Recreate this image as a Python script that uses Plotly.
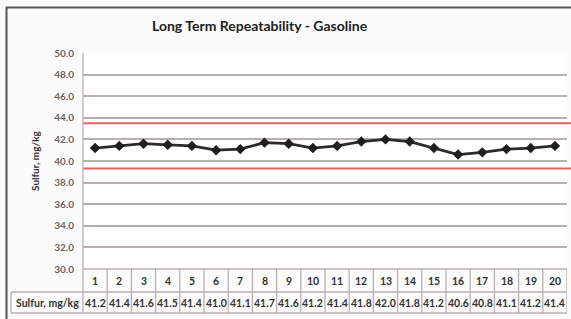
import plotly.graph_objects as go

runs = list(range(1, 21))
sulfur = [41.2, 41.4, 41.6, 41.5, 41.4, 41.0, 41.1, 41.7, 41.6, 41.2,
          41.4, 41.8, 42.0, 41.8, 41.2, 40.6, 40.8, 41.1, 41.2, 41.4]
limits = [43.5, 39.3]
y_ticks = [30, 32, 34, 36, 38, 40, 42, 44, 46, 48, 50]
row_label = "Sulfur, mg/kg"
title = "Long Term Repeatability - Gasoline"

FONT = "Lato"
GRID = "#b8b0b0"
W, H = 571, 319
L, R, T, B = 83, 4, 53, 50
pw, ph = W - L - R, H - T - B

def py(px):  # pixels below plot bottom -> paper y
    return -px / ph

def pxx(px):  # absolute x pixel -> paper x
    return (px - L) / pw

fig = go.Figure()
fig.add_trace(go.Scatter(
    x=runs, y=sulfur, mode="lines+markers",
    line=dict(color="#2b2b2b", width=2.8),
    marker=dict(symbol="diamond", size=8, color="#1e1e1e"),
    showlegend=False, hoverinfo="x+y"))

shapes = []
for v in limits:
    shapes.append(dict(type="line", xref="paper", yref="y", x0=0, x1=pxx(W + 2), y0=v, y1=v,
                       line=dict(color="#e6625f", width=2), layer="above"))

# table geometry
row1 = py(23)
row2 = py(44)
tbl = dict(color=GRID, width=1.3)
shapes.append(dict(type="line", xref="paper", yref="paper", x0=0, x1=1, y0=0, y1=0, line=tbl))
shapes.append(dict(type="line", xref="paper", yref="paper", x0=pxx(11), x1=1, y0=row1, y1=row1, line=tbl))
shapes.append(dict(type="line", xref="paper", yref="paper", x0=pxx(11), x1=1, y0=row2, y1=row2, line=tbl))
shapes.append(dict(type="line", xref="paper", yref="paper", x0=pxx(11), x1=pxx(11), y0=row1, y1=row2, line=tbl))
shapes.append(dict(type="line", xref="paper", yref="paper", x0=0, x1=0, y0=1, y1=row2, line=tbl))
for r in runs:
    shapes.append(dict(type="line", xref="x", yref="paper", x0=r + 0.5, x1=r + 0.5, y0=0, y1=row2, line=tbl))

# outer frame (top & left)
shapes.append(dict(type="line", xref="paper", yref="paper", x0=pxx(6), x1=pxx(W + 5), y0=1 + (T - 7.5) / ph, y1=1 + (T - 7.5) / ph,
                   line=dict(color="#555555", width=2)))
shapes.append(dict(type="line", xref="paper", yref="paper", x0=pxx(6.5), x1=pxx(6.5), y0=1 + (T - 7) / ph, y1=py(H - T - ph + 5),
                   line=dict(color="#555555", width=2)))

cell_font = dict(family=FONT, size=10.5, color="#333333", weight="bold")
annotations = []
for r, v in zip(runs, sulfur):
    annotations.append(dict(x=r, y=(0 + row1) / 2, xref="x", yref="paper", text=str(r), showarrow=False,
                            font=cell_font, xanchor="center", yanchor="middle"))
    annotations.append(dict(x=r, y=(row1 + row2) / 2, xref="x", yref="paper", text=f"{v:.1f}", showarrow=False,
                            font=cell_font, xanchor="center", yanchor="middle"))
annotations.append(dict(x=(pxx(11) + 0) / 2, y=(row1 + row2) / 2, xref="paper", yref="paper", text=row_label,
                        showarrow=False, font=cell_font, xanchor="center", yanchor="middle"))
annotations.append(dict(x=pxx(35), y=0.5, xref="paper", yref="paper", text=row_label, textangle=-90,
                        showarrow=False, font=dict(family=FONT, size=10, color="#333333", weight="bold"),
                        xanchor="center", yanchor="middle"))
annotations.append(dict(x=pxx(260), y=1 + (T - 25) / ph, xref="paper", yref="paper", text=title,
                        showarrow=False, font=dict(family=FONT, size=14, color="#222222", weight="bold"),
                        xanchor="center", yanchor="middle"))

fig.update_layout(
    width=W, height=H,
    margin=dict(l=L, r=R, t=T, b=B, pad=0),
    paper_bgcolor="#fbfbfb", plot_bgcolor="#ffffff",
    xaxis=dict(range=[0.5, 20.5], showticklabels=False, showgrid=False, zeroline=False,
               showline=False, fixedrange=True),
    yaxis=dict(range=[30, 50], tickvals=y_ticks, ticktext=[f"{t:.1f}" for t in y_ticks],
               showgrid=True, gridcolor=GRID, gridwidth=1.8, zeroline=False, showline=False,
               ticks="", ticklabelstandoff=8,
               tickfont=dict(family=FONT, size=10, color="#666666", weight="bold")),
    shapes=shapes, annotations=annotations, showlegend=False,
)
fig.write_html("out.html", config={"displayModeBar": False},
               post_script="document.body.style.margin='0';document.body.style.overflow='hidden';")
